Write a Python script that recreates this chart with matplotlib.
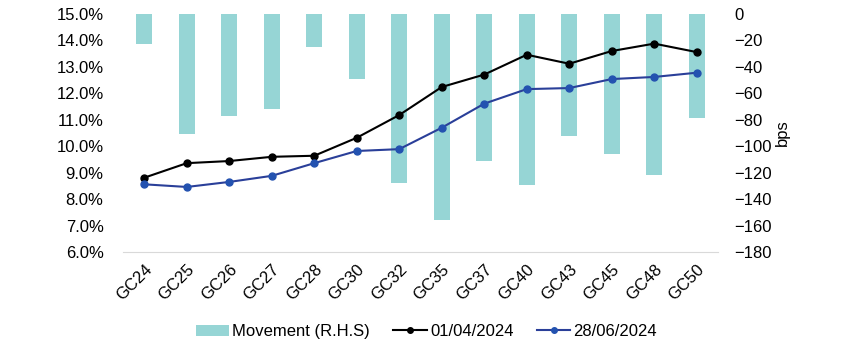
import numpy as np
import matplotlib.pyplot as plt
from matplotlib.ticker import FuncFormatter

bonds = ["GC24", "GC25", "GC26", "GC27", "GC28", "GC30", "GC32",
         "GC35", "GC37", "GC40", "GC43", "GC45", "GC48", "GC50"]
y_0104 = [8.81, 9.36, 9.44, 9.60, 9.64, 10.32, 11.18,
          12.24, 12.71, 13.46, 13.12, 13.60, 13.88, 13.56]
y_2806 = [8.56, 8.46, 8.65, 8.88, 9.36, 9.82, 9.89,
          10.70, 11.61, 12.16, 12.20, 12.54, 12.62, 12.78]
movement = [-23, -91, -77, -72, -25, -49, -128,
            -156, -111, -129, -92, -106, -122, -79]

plt.rcParams['font.family'] = ['Liberation Sans', 'DejaVu Sans']
fs = 12

fig = plt.figure(figsize=(8.58, 3.53), dpi=100)
ax = fig.add_axes([0.1434, 0.2861, 0.6934, 0.6742])
ax2 = ax.twinx()
x = np.arange(len(bonds))

bars = ax2.bar(x, movement, width=0.38, color="#96D5D5", label="Movement (R.H.S)")
ax2.set_ylim(-180, 0)
ax2.set_yticks(np.arange(-180, 1, 20))
ax2.set_ylabel("bps", fontsize=fs, labelpad=2)
ax2.tick_params(axis='y', length=0, labelsize=fs, pad=12)

l1, = ax.plot(x, y_0104, color="black", marker="o", markersize=5, lw=1.5,
              label="01/04/2024")
l2, = ax.plot(x, y_2806, color="#2A3F99", marker="o", markersize=5, lw=1.5,
              markerfacecolor="#2352B0", markeredgecolor="#2352B0",
              label="28/06/2024")
ax.set_ylim(6, 15)
ax.set_yticks(np.arange(6, 15.1, 1))
ax.yaxis.set_major_formatter(FuncFormatter(lambda v, p: f"{v:.1f}%"))
ax.set_xlim(-0.5, len(bonds) - 0.5)
ax.set_xticks(x)
ax.set_xticklabels(bonds, rotation=45, ha="right", rotation_mode="anchor")
ax.tick_params(length=0, labelsize=fs)
ax.tick_params(axis='y', pad=14)
ax.tick_params(axis='x', pad=7)

ax.set_zorder(ax2.get_zorder() + 1)
ax.patch.set_visible(False)
for a in (ax, ax2):
    for s in a.spines.values():
        s.set_visible(False)
ax.spines['bottom'].set_visible(True)
ax.spines['bottom'].set_color("#D9D9D9")

fig.legend([bars, l1, l2], ["Movement (R.H.S)", "01/04/2024", "28/06/2024"],
           loc="center", bbox_to_anchor=(0.497, 0.06), ncol=3, frameon=False,
           fontsize=fs, handlelength=2.0, columnspacing=1.4, handletextpad=0.2,
           markerscale=0.8)

fig.savefig("out.png", dpi=100)
